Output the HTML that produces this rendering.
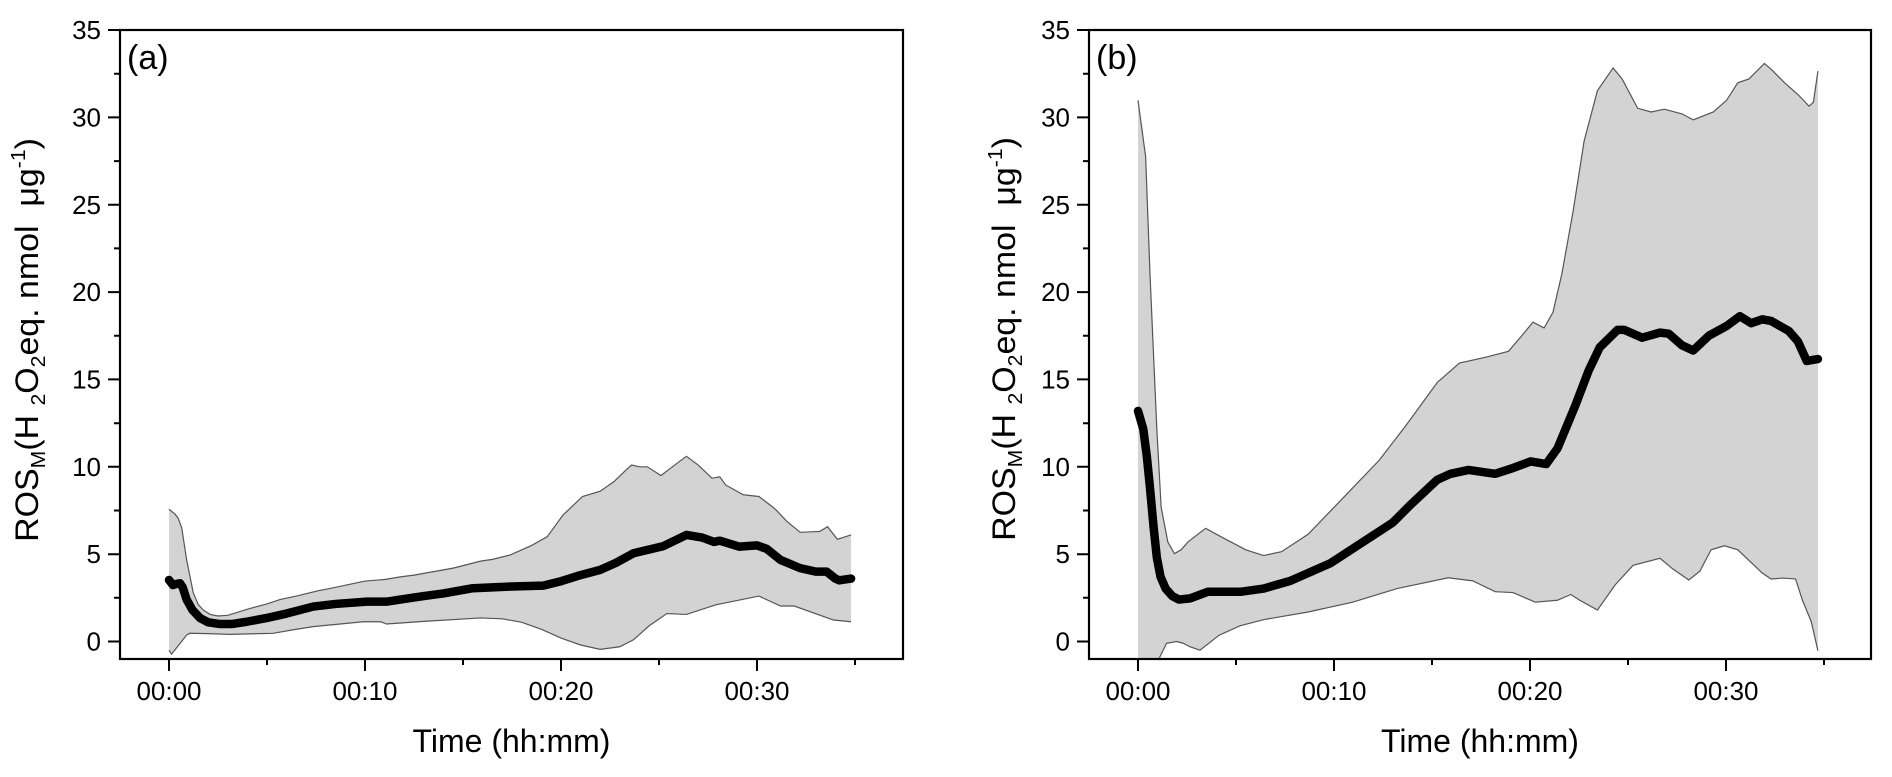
<!DOCTYPE html>
<html><head><meta charset="utf-8"><style>
html,body{margin:0;padding:0;background:#fff;}
svg{display:block;font-family:"Liberation Sans",Arial,sans-serif;}
</style></head><body>
<svg width="1892" height="777" viewBox="0 0 1892 777" xmlns="http://www.w3.org/2000/svg">
<defs>
<clipPath id="ca"><rect x="121" y="31" width="781" height="627"/></clipPath>
<clipPath id="cb"><rect x="1090" y="31" width="780" height="627"/></clipPath>
</defs>

<!-- Panel A data -->
<g clip-path="url(#ca)">
<g transform="translate(169,641.5) scale(19.6,-17.47)">
<path fill="#d3d3d3" stroke="none" d="M0,7.57 L0.3,7.3 0.47,7.05 0.65,6.5 0.9,4.67 1.24,2.78 1.5,2.1 1.75,1.8 2.1,1.55 2.5,1.46 3,1.5 4,1.85 5,2.15 5.66,2.4 6.5,2.6 7.6,2.9 8.5,3.1 10,3.46 11,3.55 11.8,3.7 12.5,3.8 13.5,4.0 14.5,4.2 15.9,4.6 16.5,4.7 17.4,4.95 18.5,5.5 19.3,6.0 20.1,7.24 21.1,8.3 22,8.6 22.7,9.15 23.3,9.8 23.6,10.1 24.0,10.0 24.4,10.0 25.1,9.5 25.8,10.1 26.4,10.6 27.0,10.1 27.7,9.35 28.1,9.43 28.4,8.96 29.3,8.4 30.1,8.3 30.8,7.7 31.0,7.5 31.5,6.9 32.2,6.25 33.2,6.3 33.6,6.57 34.1,5.85 34.8,6.1 L34.8,1.13 33.9,1.23 31.9,2.03 31.2,2.03 30.1,2.6 27.9,2.1 26.4,1.55 25.4,1.6 24.5,0.9 23.7,0.1 23,-0.3 22,-0.45 21,-0.2 20,0.2 19,0.7 18,1.1 17,1.3 15.9,1.35 13,1.15 11.1,1.0 10.8,1.13 9.9,1.13 7.36,0.85 6.5,0.7 5.3,0.47 3.1,0.41 2,0.45 1.06,0.47 0.9,0.37 0.5,-0.2 0.13,-0.72 0,-0.5 Z"/>
<path fill="none" stroke="#555" stroke-width="1.2" vector-effect="non-scaling-stroke" d="M0,7.57 L0.3,7.3 0.47,7.05 0.65,6.5 0.9,4.67 1.24,2.78 1.5,2.1 1.75,1.8 2.1,1.55 2.5,1.46 3,1.5 4,1.85 5,2.15 5.66,2.4 6.5,2.6 7.6,2.9 8.5,3.1 10,3.46 11,3.55 11.8,3.7 12.5,3.8 13.5,4.0 14.5,4.2 15.9,4.6 16.5,4.7 17.4,4.95 18.5,5.5 19.3,6.0 20.1,7.24 21.1,8.3 22,8.6 22.7,9.15 23.3,9.8 23.6,10.1 24.0,10.0 24.4,10.0 25.1,9.5 25.8,10.1 26.4,10.6 27.0,10.1 27.7,9.35 28.1,9.43 28.4,8.96 29.3,8.4 30.1,8.3 30.8,7.7 31.0,7.5 31.5,6.9 32.2,6.25 33.2,6.3 33.6,6.57 34.1,5.85 34.8,6.1"/>
<path fill="none" stroke="#555" stroke-width="1.2" vector-effect="non-scaling-stroke" d="M34.8,1.13 L33.9,1.23 31.9,2.03 31.2,2.03 30.1,2.6 27.9,2.1 26.4,1.55 25.4,1.6 24.5,0.9 23.7,0.1 23,-0.3 22,-0.45 21,-0.2 20,0.2 19,0.7 18,1.1 17,1.3 15.9,1.35 13,1.15 11.1,1.0 10.8,1.13 9.9,1.13 7.36,0.85 6.5,0.7 5.3,0.47 3.1,0.41 2,0.45 1.06,0.47 0.9,0.37 0.5,-0.2 0.13,-0.72 0,-0.5"/>
<path fill="none" stroke="#000" stroke-width="8.5" stroke-linecap="round" stroke-linejoin="round" vector-effect="non-scaling-stroke" d="M0,3.52 L0.2,3.23 0.4,3.3 0.56,3.33 0.7,3.1 0.9,2.4 1.2,1.8 1.6,1.33 2.0,1.1 2.6,1.0 3.2,1.0 3.96,1.13 5,1.35 6,1.6 7.36,2.0 8.5,2.15 10.1,2.28 11.1,2.28 11.8,2.4 13,2.6 14,2.75 15.5,3.05 16.5,3.1 17.5,3.15 19.1,3.2 20,3.45 21,3.8 22,4.1 22.8,4.5 23.7,5.05 25.2,5.45 26.4,6.1 27.2,5.95 27.8,5.7 28.1,5.77 29.1,5.43 30,5.5 30.5,5.3 31.2,4.67 32.2,4.2 33,4.0 33.55,4.0 34.0,3.6 34.2,3.5 34.8,3.6"/>
</g>
</g>

<!-- Panel B data -->
<g clip-path="url(#cb)">
<g transform="translate(1138,641.5) scale(19.6,-17.47)">
<path fill="#d3d3d3" stroke="none" d="M0,30.98 L0.39,27.75 0.61,21.07 0.96,12.16 1.18,7.7 1.52,5.7 1.86,5.03 2.2,5.25 2.55,5.7 3.45,6.48 4.36,5.92 5.5,5.25 6.41,4.92 7.32,5.14 8.68,6.14 10.5,8.26 12.31,10.38 13.68,12.38 15.27,14.83 16.4,15.94 17.77,16.28 18.9,16.61 19.58,17.5 20.15,18.28 20.72,17.95 21.17,18.84 21.63,21.07 22.2,24.63 22.76,28.64 23.44,31.53 24.24,32.83 24.7,32.2 25.49,30.53 26.17,30.31 26.85,30.47 27.76,30.2 28.33,29.86 29.35,30.31 30.03,30.98 30.6,31.98 31.17,32.2 31.96,33.09 32.3,32.76 32.99,31.98 33.67,31.31 34.24,30.64 34.46,30.87 34.69,32.65 L34.69,-0.53 34.35,1.14 33.9,2.36 33.55,3.58 32.87,3.63 32.3,3.58 31.85,3.92 30.6,5.25 29.92,5.48 29.24,5.25 28.67,4.03 28.1,3.52 27.3,4.14 26.63,4.76 25.26,4.36 24.35,3.25 23.44,1.8 22.54,2.36 22.08,2.69 21.4,2.36 20.27,2.25 19.13,2.8 18.22,2.85 17.08,3.47 15.83,3.65 13.22,3.03 10.95,2.25 8.68,1.69 6.41,1.25 5.2,0.9 4.14,0.36 3.16,-0.5 2.65,-0.3 2.3,-0.1 1.97,0 1.46,-0.1 1.12,-0.87 0.9,-1.5 0,-3 Z"/>
<path fill="none" stroke="#555" stroke-width="1.2" vector-effect="non-scaling-stroke" d="M0,30.98 L0.39,27.75 0.61,21.07 0.96,12.16 1.18,7.7 1.52,5.7 1.86,5.03 2.2,5.25 2.55,5.7 3.45,6.48 4.36,5.92 5.5,5.25 6.41,4.92 7.32,5.14 8.68,6.14 10.5,8.26 12.31,10.38 13.68,12.38 15.27,14.83 16.4,15.94 17.77,16.28 18.9,16.61 19.58,17.5 20.15,18.28 20.72,17.95 21.17,18.84 21.63,21.07 22.2,24.63 22.76,28.64 23.44,31.53 24.24,32.83 24.7,32.2 25.49,30.53 26.17,30.31 26.85,30.47 27.76,30.2 28.33,29.86 29.35,30.31 30.03,30.98 30.6,31.98 31.17,32.2 31.96,33.09 32.3,32.76 32.99,31.98 33.67,31.31 34.24,30.64 34.46,30.87 34.69,32.65"/>
<path fill="none" stroke="#555" stroke-width="1.2" vector-effect="non-scaling-stroke" d="M34.69,-0.53 L34.35,1.14 33.9,2.36 33.55,3.58 32.87,3.63 32.3,3.58 31.85,3.92 30.6,5.25 29.92,5.48 29.24,5.25 28.67,4.03 28.1,3.52 27.3,4.14 26.63,4.76 25.26,4.36 24.35,3.25 23.44,1.8 22.54,2.36 22.08,2.69 21.4,2.36 20.27,2.25 19.13,2.8 18.22,2.85 17.08,3.47 15.83,3.65 13.22,3.03 10.95,2.25 8.68,1.69 6.41,1.25 5.2,0.9 4.14,0.36 3.16,-0.5 2.65,-0.3 2.3,-0.1 1.97,0 1.46,-0.1 1.12,-0.87 0.9,-1.5"/>
<path fill="none" stroke="#000" stroke-width="8.5" stroke-linecap="round" stroke-linejoin="round" vector-effect="non-scaling-stroke" d="M0,13.2 L0.27,12.16 0.45,10.6 0.61,8.82 0.8,6.5 0.96,4.81 1.15,3.7 1.41,3.03 1.75,2.6 2.09,2.4 2.66,2.47 3.57,2.85 5.27,2.85 6.41,3.03 7.77,3.47 9.8,4.47 11.18,5.48 13.0,6.81 13.9,7.82 15.27,9.26 15.95,9.6 16.86,9.82 18.22,9.6 19.13,9.93 20.04,10.31 20.83,10.16 21.4,11.05 22.31,13.5 22.99,15.5 23.56,16.84 24.47,17.84 24.81,17.84 25.72,17.39 26.63,17.68 27.08,17.62 27.76,16.95 28.33,16.66 29.12,17.5 30.03,18.06 30.71,18.62 31.28,18.22 31.85,18.44 32.3,18.35 33.21,17.77 33.67,17.17 34.12,16.06 34.69,16.17"/>
</g>
</g>

<!-- Axes frames -->
<rect x="120" y="30" width="783" height="629" fill="none" stroke="#000" stroke-width="2.2"/>
<rect x="1089" y="30" width="782" height="629" fill="none" stroke="#000" stroke-width="2.2"/>

<!-- Panel A ticks -->
<g stroke="#000" stroke-width="2">
<path d="M108,641.5H120 M108,554.2H120 M108,466.8H120 M108,379.4H120 M108,292.1H120 M108,204.8H120 M108,117.4H120 M108,30.05H120"/>
<path d="M114,597.8H120 M114,510.5H120 M114,423.2H120 M114,335.8H120 M114,248.4H120 M114,161.1H120 M114,73.7H120"/>
<path d="M169,659V671 M365,659V671 M561,659V671 M757,659V671"/>
<path d="M267,659V665 M463,659V665 M659,659V665 M855,659V665"/>
</g>
<!-- Panel B ticks -->
<g stroke="#000" stroke-width="2">
<path d="M1077,641.5H1089 M1077,554.2H1089 M1077,466.8H1089 M1077,379.4H1089 M1077,292.1H1089 M1077,204.8H1089 M1077,117.4H1089 M1077,30.05H1089"/>
<path d="M1083,597.8H1089 M1083,510.5H1089 M1083,423.2H1089 M1083,335.8H1089 M1083,248.4H1089 M1083,161.1H1089 M1083,73.7H1089"/>
<path d="M1138,659V671 M1334,659V671 M1530,659V671 M1726,659V671"/>
<path d="M1236,659V665 M1432,659V665 M1628,659V665 M1824,659V665"/>
</g>

<!-- Panel A tick labels -->
<g font-size="26" fill="#000" text-anchor="end">
<text x="101" y="650.5">0</text>
<text x="101" y="563.2">5</text>
<text x="101" y="475.8">10</text>
<text x="101" y="388.4">15</text>
<text x="101" y="301.1">20</text>
<text x="101" y="213.8">25</text>
<text x="101" y="126.4">30</text>
<text x="101" y="39">35</text>
</g>
<g font-size="26" fill="#000" text-anchor="middle">
<text x="169" y="700">00:00</text>
<text x="365" y="700">00:10</text>
<text x="561" y="700">00:20</text>
<text x="757" y="700">00:30</text>
</g>
<!-- Panel B tick labels -->
<g font-size="26" fill="#000" text-anchor="end">
<text x="1070" y="650.5">0</text>
<text x="1070" y="563.2">5</text>
<text x="1070" y="475.8">10</text>
<text x="1070" y="388.4">15</text>
<text x="1070" y="301.1">20</text>
<text x="1070" y="213.8">25</text>
<text x="1070" y="126.4">30</text>
<text x="1070" y="39">35</text>
</g>
<g font-size="26" fill="#000" text-anchor="middle">
<text x="1138" y="700">00:00</text>
<text x="1334" y="700">00:10</text>
<text x="1530" y="700">00:20</text>
<text x="1726" y="700">00:30</text>
</g>

<!-- Axis titles -->
<text x="511.5" y="752" font-size="32" text-anchor="middle">Time (hh:mm)</text>
<text x="1480" y="752" font-size="32" text-anchor="middle">Time (hh:mm)</text>

<text transform="translate(38,340) rotate(-90) scale(1.06,1)" font-size="32" text-anchor="middle">ROS<tspan font-size="20" dy="7">M</tspan><tspan dy="-7">(H&#160;</tspan><tspan font-size="20" dy="7">2</tspan><tspan dy="-7">O</tspan><tspan font-size="20" dy="7">2</tspan><tspan dy="-7">eq. nmol&#160; μg</tspan><tspan font-size="20" dy="-13">-1</tspan><tspan dy="13">)</tspan></text>
<text transform="translate(1015,339) rotate(-90) scale(1.06,1)" font-size="32" text-anchor="middle">ROS<tspan font-size="20" dy="7">M</tspan><tspan dy="-7">(H&#160;</tspan><tspan font-size="20" dy="7">2</tspan><tspan dy="-7">O</tspan><tspan font-size="20" dy="7">2</tspan><tspan dy="-7">eq. nmol&#160; μg</tspan><tspan font-size="20" dy="-13">-1</tspan><tspan dy="13">)</tspan></text>

<!-- Panel labels -->
<text x="127" y="69" font-size="34">(a)</text>
<text x="1096" y="69" font-size="34">(b)</text>
</svg>
</body></html>
